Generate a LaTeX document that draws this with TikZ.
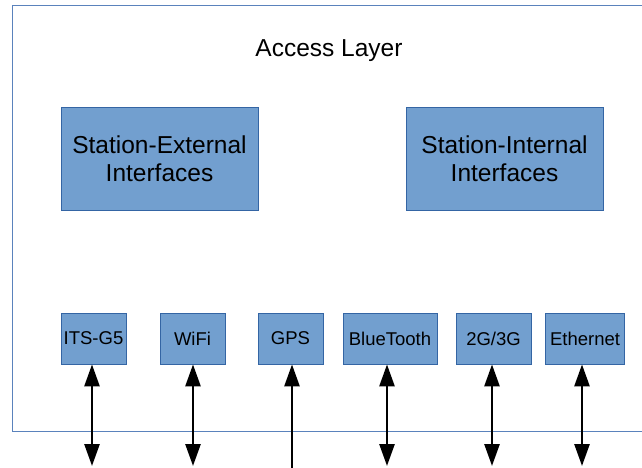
\documentclass[tikz,border=0pt]{standalone}
\usepackage{fontspec}
\setmainfont{Liberation Sans}
\usetikzlibrary{arrows.meta}
\definecolor{boxfill}{HTML}{729FCF}
\definecolor{boxline}{HTML}{3465A4}
\definecolor{frameline}{HTML}{5A82BC}
\tikzset{
  bigbox/.style={draw=boxline, fill=boxfill, line width=0.8pt, inner sep=0pt,
    minimum width=197pt, minimum height=103pt, align=center,
    font=\fontsize{24.5}{28.5}\selectfont},
  ifbox/.style={draw=boxline, fill=boxfill, line width=0.8pt, inner sep=0pt,
    minimum height=51pt, font=\fontsize{18.5}{22}\selectfont},
  link/.style={line width=2.6pt, -{Triangle[length=22pt,width=15pt]}},
  duplex/.style={line width=2.6pt, {Triangle[length=22pt,width=15pt]}-{Triangle[length=22pt,width=15pt]}}
}
\begin{document}
\begin{tikzpicture}[x=1pt,y=-1pt]
\useasboundingbox (0,0) rectangle (642,468);
% layer frame, open on the right
\draw[frameline, line width=0.9pt] (642,5) -- (12,5) -- (12,431) -- (642,431);
\node[font=\fontsize{24.5}{28}\selectfont] (title) at (329,50.5) {Access Layer};
% interface groups
\node[bigbox] (ext) at (159.5,158.5) {Station-External\\Interfaces};
\node[bigbox] (int) at (504.5,158.5) {Station-Internal\\Interfaces};
% access technologies
\node[ifbox, minimum width=65pt] (its) at (93.5,338.5) {\raisebox{-1pt}{ITS-G5}};
\node[ifbox, minimum width=65pt] (wifi) at (192.5,338.5) {\raisebox{-1pt}{WiFi}};
\node[ifbox, minimum width=65pt] (gps) at (290.5,338.5) {\raisebox{-1pt}{GPS}};
\node[ifbox, minimum width=94pt] (bt) at (390,338.5) {\raisebox{-1pt}{BlueTooth}};
\node[ifbox, minimum width=75pt] (cell) at (493.5,338.5) {\raisebox{-1pt}{2G/3G}};
\node[ifbox, minimum width=79pt] (eth) at (585,338.5) {\raisebox{-1pt}{Ethernet}};
% outside end points
\coordinate (oits) at (92,466);
\coordinate (owifi) at (193,466);
\coordinate (ogps) at (292,468);
\coordinate (obt) at (387,466);
\coordinate (ocell) at (492,466);
\coordinate (oeth) at (582,466);
\draw[duplex] (oits) -- (oits |- its.south);
\draw[duplex] (owifi) -- (owifi |- wifi.south);
\draw[link] (ogps) -- (ogps |- gps.south);
\draw[duplex] (obt) -- (obt |- bt.south);
\draw[duplex] (ocell) -- (ocell |- cell.south);
\draw[duplex] (oeth) -- (oeth |- eth.south);
\end{tikzpicture}
\end{document}
